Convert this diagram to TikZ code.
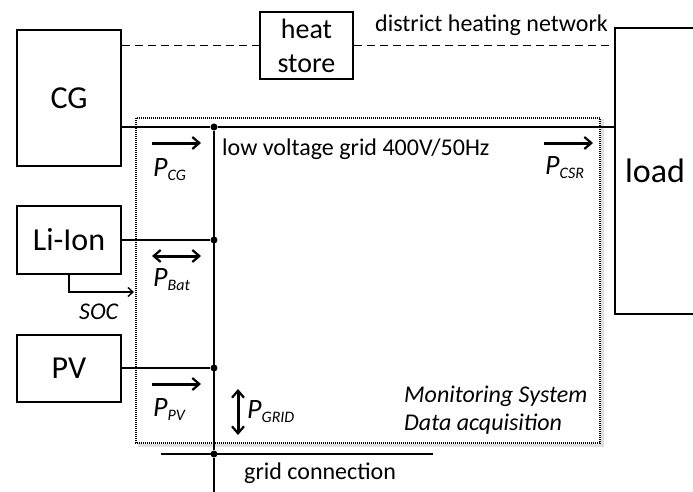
\documentclass[tikz,border=0pt]{standalone}
\usepackage{fontspec}
\setmainfont{Carlito}
\usetikzlibrary{arrows.meta}
\newcommand{\psub}[2]{\textit{{\fontsize{28}{28}\selectfont #1}\raisebox{-4pt}{\fontsize{16}{16}\selectfont #2}}}
\begin{document}
\begin{tikzpicture}[x=1pt,y=-1pt,
  box/.style={draw,line width=1.8pt,inner sep=0pt,align=center},
  wire/.style={line width=1.8pt},
  flow/.style={line width=3pt,-{Straight Barb[length=7pt,width=12pt,line width=2.2pt]}},
  flowboth/.style={line width=3pt,{Straight Barb[length=7pt,width=12pt,line width=2.2pt]}-{Straight Barb[length=7pt,width=12pt,line width=2.2pt]}},
  dot/.style={circle,fill,inner sep=0pt,minimum size=7pt},
  lbl/.style={font=\fontsize{24}{26}\selectfont,inner sep=0pt},
  plbl/.style={font=\fontsize{24}{26}\selectfont\itshape,inner sep=0pt,anchor=west}]
\useasboundingbox (0,0) rectangle (693,492);
\clip (0,0) rectangle (693,492);
% monitoring frame
\draw[gray!25,line width=3pt] (139,121) rectangle (602.5,445.5);
\draw[line width=1.6pt,dash pattern=on 1pt off 1pt,fill=white] (136,118) rectangle (600,443);
% boxes
\node[box,minimum width=104pt,minimum height=136pt,font=\fontsize{32}{34}\selectfont] (CG) at (69,98) {CG};
\node[box,minimum width=93pt,minimum height=67pt,font=\fontsize{28}{34}\selectfont] (heat) at (306.5,45.5) {heat\\store};
\node[box,minimum width=104pt,minimum height=68pt,font=\fontsize{32}{34}\selectfont] (LI) at (69,240) {Li-Ion};
\node[box,minimum width=104pt,minimum height=67pt,font=\fontsize{32}{34}\selectfont] (PV) at (69,368.5) {PV};
\node[box,minimum width=80pt,minimum height=286pt,font=\fontsize{34}{36}\selectfont] (load) at (655,171) {load};
% junctions
\node[dot] (j1) at (214,127) {};
\node[dot] (j2) at (214,240) {};
\node[dot] (j3) at (214,368) {};
\node[dot] (j4) at (214,454) {};
\coordinate (bot) at (214,495);
\coordinate (gl) at (161,454);
\coordinate (gr) at (433,454);
% dashed heat network
\draw[line width=1.6pt,dash pattern=on 8pt off 5pt] (CG.east |- heat.west) -- (heat.west);
\draw[line width=1.6pt,dash pattern=on 8pt off 5pt] (heat.east) -- (load.west |- heat.east);
% wires
\draw[wire] (CG.east |- j1) -- (j1) -- (load.west |- j1);
\draw[wire] (LI.east |- j2) -- (j2);
\draw[wire] (PV.east |- j3) -- (j3);
\draw[wire] (j1) -- (j4) -- (bot);
\draw[wire] (gl) -- (gr);
% SOC
\coordinate (socB) at (69,292);
\coordinate (socC) at (134,292);
\draw[line width=1.5pt,-{Straight Barb[length=5pt,width=9pt,line width=1.4pt]}] (LI.south) -- (socB) -- (socC);
\node[plbl] (soc) at (79,312) {SOC};
% flow arrows
\coordinate (a1) at (152,143); \coordinate (a2) at (201,143);
\draw[flow] (a1) -- (a2);
\node[plbl] (pcg) at (153,170) {\psub{P}{CG}};
\coordinate (b1) at (544,143); \coordinate (b2) at (593,143);
\draw[flow] (b1) -- (b2);
\node[plbl] (pcsr) at (545,168) {\psub{P}{CSR}};
\coordinate (c1) at (152,256); \coordinate (c2) at (201,256);
\draw[flowboth] (c1) -- (c2);
\node[plbl] (pbat) at (153,280) {\psub{P}{Bat}};
\coordinate (d1) at (152,384); \coordinate (d2) at (201,384);
\draw[flow] (d1) -- (d2);
\node[plbl] (ppv) at (153,410) {\psub{P}{PV}};
\coordinate (e1) at (238,389); \coordinate (e2) at (238,435);
\draw[flowboth] (e1) -- (e2);
\node[plbl] (pgrid) at (247,412) {\psub{P}{GRID}};
% texts
\node[lbl,anchor=west] (lv) at (222,149) {low voltage grid 400V/50Hz};
\node[lbl,anchor=west] (dhn) at (375,25) {district heating network};
\node[lbl,anchor=west] (gc) at (244,473) {grid connection};
\node[plbl] (mon) at (404,396) {Monitoring System};
\node[plbl] (daq) at (404,424) {Data acquisition};
\end{tikzpicture}
\end{document}
